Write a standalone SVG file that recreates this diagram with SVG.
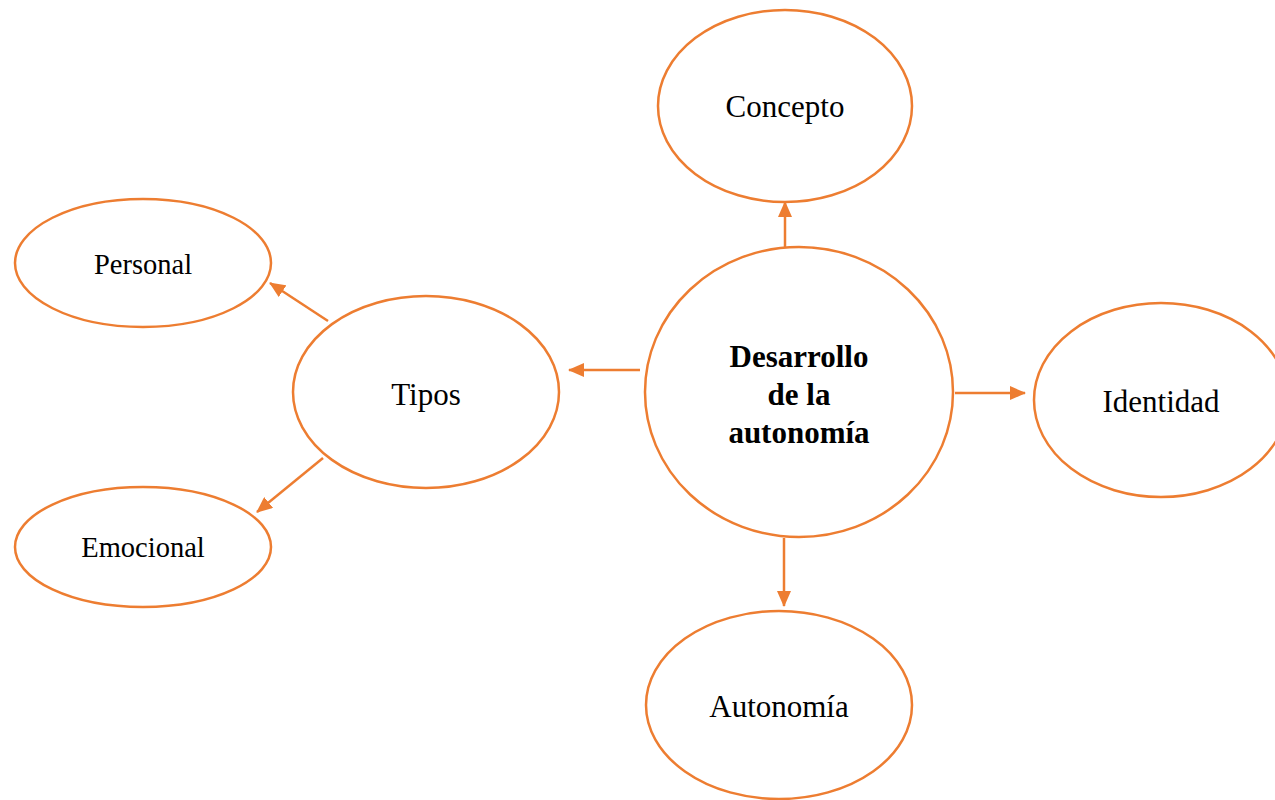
<svg xmlns="http://www.w3.org/2000/svg" width="1275" height="800" viewBox="0 0 1275 800">
<style>
.n{fill:#fff;stroke:#ED7D31;stroke-width:2.5}
.t{font-family:"Liberation Serif","Times New Roman",serif;font-size:31px;fill:#000;text-anchor:middle}
.s{font-size:28.5px}
.b{font-weight:bold}
.c{stroke:#ED7D31;stroke-width:2.5;fill:none;marker-end:url(#a)}
</style>
<defs>
<marker id="a" markerWidth="16" markerHeight="14" refX="15" refY="7" orient="auto" markerUnits="userSpaceOnUse" viewBox="0 0 16 14">
<path d="M0,0 L16,7 L0,14 z" fill="#ED7D31"/>
</marker>
</defs>
<rect width="1275" height="800" fill="#fff"/>
<g id="connectors">
<line class="c" x1="785" y1="247" x2="785" y2="202"/>
<line class="c" x1="640" y1="370" x2="569" y2="370"/>
<line class="c" x1="955" y1="393" x2="1025" y2="393"/>
<line class="c" x1="784" y1="538" x2="784" y2="606"/>
<line class="c" x1="328" y1="321" x2="270" y2="283"/>
<line class="c" x1="323" y1="458" x2="257" y2="512"/>
</g>
<g id="concepto"><ellipse class="n" cx="785" cy="106" rx="127" ry="96"/><text class="t" x="785" y="117">Concepto</text></g>
<g id="centro"><ellipse class="n" cx="799" cy="392" rx="154" ry="145"/><text class="t b" x="799" y="367">Desarrollo</text><text class="t b" x="799" y="405">de la</text><text class="t b" x="799" y="443">autonomía</text></g>
<g id="tipos"><ellipse class="n" cx="426" cy="392" rx="133" ry="96"/><text class="t" x="426" y="405">Tipos</text></g>
<g id="identidad"><ellipse class="n" cx="1161" cy="400" rx="127" ry="97"/><text class="t" x="1161" y="412">Identidad</text></g>
<g id="autonomia"><ellipse class="n" cx="779" cy="705" rx="133" ry="94"/><text class="t" x="779" y="717">Autonomía</text></g>
<g id="personal"><ellipse class="n" cx="143" cy="263" rx="128" ry="64"/><text class="t s" x="143" y="274">Personal</text></g>
<g id="emocional"><ellipse class="n" cx="143" cy="547" rx="128" ry="60"/><text class="t s" x="143" y="557">Emocional</text></g>
</svg>
